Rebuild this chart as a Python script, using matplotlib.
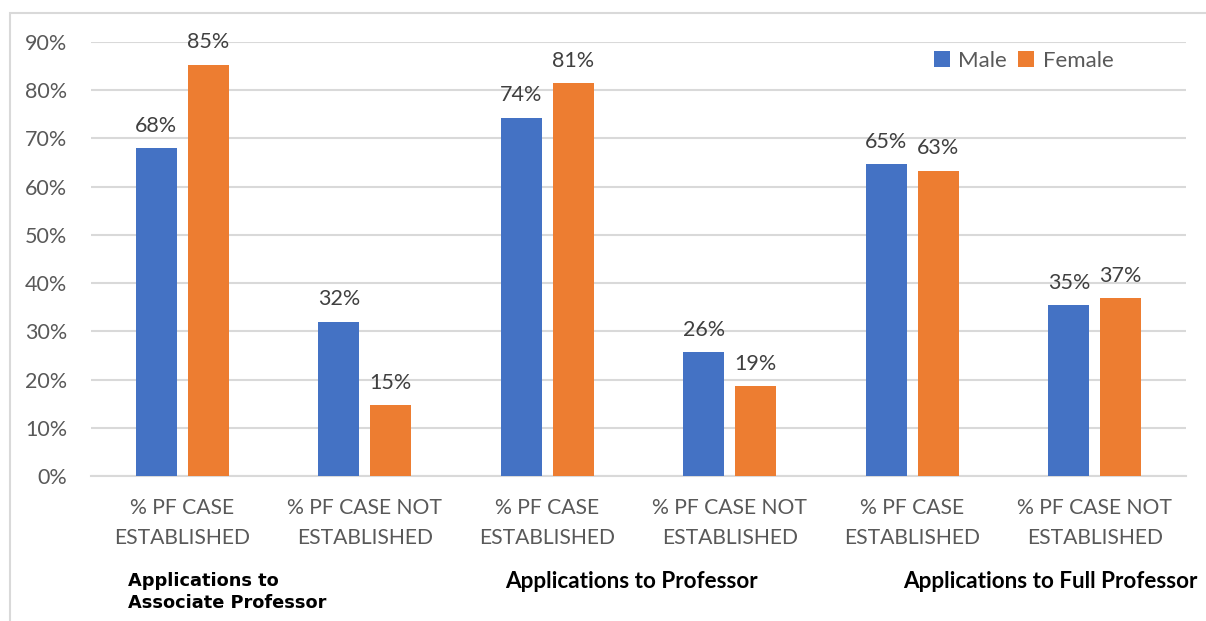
import matplotlib.pyplot as plt
import numpy as np
from matplotlib.patches import Rectangle

categories = ["% PF CASE\nESTABLISHED", "% PF CASE NOT\nESTABLISHED"] * 3
male = [68.0, 32.0, 74.3, 25.7, 64.6, 35.4]
female = [85.3, 14.7, 81.4, 18.6, 63.3, 36.9]
yticks = [0, 10, 20, 30, 40, 50, 60, 70, 80, 90]
groups = ["Applications to\nAssociate Professor", "Applications to Professor",
          "Applications to Full Professor"]

BLUE = "#4472C4"
ORANGE = "#ED7D31"
GREY = "#595959"
GRID = "#D9D9D9"

plt.rcParams["font.family"] = ["Lato", "DejaVu Sans"]

fig = plt.figure(figsize=(12.06, 6.21), dpi=100)
fig.patches.append(Rectangle((10 / 1206, -0.1), 1.2, (621 - 13) / 621 + 0.1,
                             transform=fig.transFigure, fill=False,
                             edgecolor=GRID, linewidth=1.5))

ax = fig.add_axes([91 / 1206, (621 - 476) / 621, 1095 / 1206, 434 / 621])

x = np.arange(len(categories))
w = 0.225
off = 0.142
bm = ax.bar(x - off, male, w, color=BLUE, label="Male", zorder=3)
bf = ax.bar(x + off, female, w, color=ORANGE, label="Female", zorder=3)

for bars, vals in ((bm, male), (bf, female)):
    for b, v in zip(bars, vals):
        ax.annotate(f"{round(v):.0f}%", (b.get_x() + b.get_width() / 2, v),
                    xytext=(0, 9), textcoords="offset points",
                    ha="center", va="bottom", fontsize=15.5, color="#404040")

ax.set_xlim(-0.5, len(categories) - 0.5)
ax.set_ylim(0, 90)
ax.set_yticks(yticks)
ax.set_yticklabels([f"{t}%" for t in yticks])
ax.set_xticks(x)
ax.set_xticklabels(categories, linespacing=1.6)
ax.tick_params(axis="y", length=0, pad=17, labelsize=15.5, labelcolor=GREY)
ax.tick_params(axis="x", length=0, pad=16, labelsize=15.2, labelcolor=GREY)

ax.grid(axis="y", color=GRID, linewidth=1.5, zorder=0)
for s in ("left", "right", "top"):
    ax.spines[s].set_visible(False)
ax.spines["bottom"].set_color(GRID)
ax.spines["bottom"].set_linewidth(1.5)

fig.legend(handles=[bm, bf], loc="center left",
           bbox_to_anchor=(934 / 1206, 1 - 61 / 621), frameon=False,
           ncol=2, fontsize=16, handlelength=0.7, handleheight=0.7,
           handletextpad=0.4, columnspacing=0.5, labelcolor=GREY,
           borderaxespad=0, borderpad=0)

fig.text(128 / 1206, 1 - 592 / 621, groups[0], family="DejaVu Sans",
         fontweight="bold", fontsize=12.8, ha="left", va="center",
         linespacing=1.35, color="black")
fig.text(505 / 1206, 1 - 581 / 621, groups[1], fontweight="bold",
         fontsize=16.2, ha="left", va="center", color="black")
fig.text(903 / 1206, 1 - 581 / 621, groups[2], fontweight="bold",
         fontsize=16.2, ha="left", va="center", color="black")

fig.savefig("out.png", dpi=100)
